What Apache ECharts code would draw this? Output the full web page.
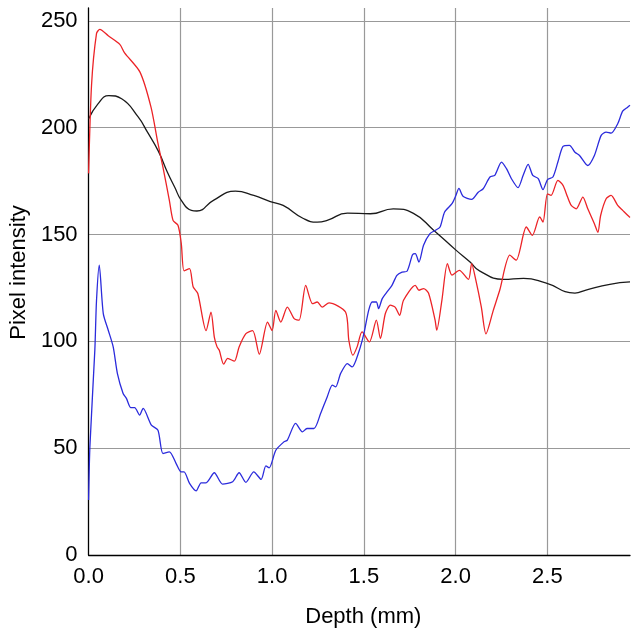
<!DOCTYPE html>
<html>
<head>
<meta charset="utf-8">
<script src="https://cdn.jsdelivr.net/npm/echarts@6/dist/echarts.min.js"></script>
<style>
  html, body { margin: 0; padding: 0; background: #fff; }
  #dataDiv { width: 631px; height: 634px; }
</style>
</head>
<body>
<div id="dataDiv"></div>
<script>
// depth (mm) and pixel intensity for each trace
var depthBlack = [0, 0.05, 0.11, 0.18, 0.27, 0.32, 0.38, 0.43, 0.47, 0.505, 0.56, 0.59, 0.68, 0.80, 0.90, 0.99, 1.06, 1.17, 1.245, 1.30, 1.41, 1.535, 1.66, 1.77, 1.88, 2.0, 2.08, 2.13, 2.26, 2.37, 2.49, 2.65, 2.71, 2.84, 2.95];
var intensityBlack = [204, 211, 215, 213.5, 205, 198, 189, 179, 172, 166, 161.3, 161, 166, 170.3, 168.3, 165.4, 163.6, 157.5, 155.8, 156.6, 160, 159.7, 162, 159.9, 152, 142.8, 137, 133, 129, 129.5, 127.3, 122.6, 124, 126.7, 127.8];

var depthRed = [0, 0.016, 0.043, 0.061, 0.107, 0.17, 0.196, 0.28, 0.34, 0.378, 0.405, 0.44, 0.46, 0.487, 0.505, 0.52, 0.55, 0.57, 0.595, 0.64, 0.667, 0.685, 0.70, 0.712, 0.736, 0.758, 0.794, 0.82, 0.857, 0.894, 0.93, 0.975, 1.0, 1.02, 1.047, 1.083, 1.12, 1.147, 1.183, 1.22, 1.246, 1.273, 1.31, 1.40, 1.418, 1.44, 1.463, 1.49, 1.53, 1.568, 1.59, 1.617, 1.644, 1.67, 1.695, 1.716, 1.78, 1.80, 1.825, 1.852, 1.888, 1.897, 1.925, 1.955, 1.98, 2.02, 2.07, 2.087, 2.11, 2.14, 2.165, 2.205, 2.24, 2.295, 2.33, 2.385, 2.418, 2.458, 2.476, 2.50, 2.52, 2.557, 2.585, 2.61, 2.63, 2.657, 2.693, 2.72, 2.756, 2.775, 2.79, 2.82, 2.847, 2.883, 2.91, 2.937, 2.95];
var intensityRed = [178.6, 220, 244, 246, 243, 239, 235, 226, 209.6, 192.6, 181.5, 166, 156.6, 154.3, 145.8, 133, 134, 125.4, 122.4, 105, 113.7, 102, 97.4, 95.8, 89.3, 92, 90.7, 97.4, 103.6, 105, 94, 109, 105, 114.5, 109, 116, 110.6, 109.9, 126.2, 117.6, 118.4, 116, 118, 113.7, 100.5, 93.5, 97.4, 104.4, 99.7, 109.9, 101.3, 113, 116.9, 116, 112.2, 119.2, 126.2, 123.9, 124.7, 122.6, 109.9, 105.2, 119.2, 136.4, 131, 133.2, 129, 136.4, 128.6, 116, 103.5, 114.5, 123.9, 140.3, 138, 153.5, 149.6, 158.2, 155.8, 169, 168.3, 175.3, 173, 167.5, 163.6, 162, 167.5, 162, 155, 151, 158.9, 166.7, 168.3, 163.6, 161.3, 159, 158];

var depthBlue = [0, 0.007, 0.034, 0.043, 0.058, 0.08, 0.107, 0.134, 0.157, 0.188, 0.206, 0.23, 0.251, 0.278, 0.297, 0.342, 0.378, 0.405, 0.44, 0.477, 0.504, 0.52, 0.55, 0.586, 0.613, 0.64, 0.685, 0.73, 0.785, 0.82, 0.857, 0.90, 0.94, 0.966, 0.984, 1.02, 1.065, 1.083, 1.128, 1.165, 1.19, 1.228, 1.264, 1.30, 1.328, 1.346, 1.373, 1.41, 1.436, 1.472, 1.50, 1.526, 1.545, 1.568, 1.58, 1.60, 1.626, 1.653, 1.68, 1.708, 1.735, 1.765, 1.78, 1.80, 1.825, 1.86, 1.89, 1.915, 1.94, 1.98, 2.0, 2.018, 2.04, 2.087, 2.123, 2.15, 2.187, 2.213, 2.25, 2.277, 2.304, 2.34, 2.368, 2.395, 2.42, 2.45, 2.476, 2.50, 2.53, 2.557, 2.585, 2.62, 2.65, 2.675, 2.72, 2.756, 2.793, 2.82, 2.847, 2.883, 2.91, 2.937, 2.95];
var intensityBlue = [25.7, 50.6, 96, 119, 135.6, 113, 105.2, 97.4, 84.9, 75.6, 73.3, 69, 69, 65.5, 68.6, 60.8, 58.4, 47.5, 48.3, 42.8, 38.9, 38.9, 33.5, 30, 33.8, 33.8, 38.5, 33.2, 34.3, 38.5, 34, 38.9, 35.4, 41.7, 40.8, 49, 53, 53.8, 61.6, 57.6, 59.2, 59.2, 66.2, 74, 79.5, 78.7, 84.9, 89.6, 88, 95, 103.6, 114.5, 118.4, 118.4, 115.3, 120, 123.1, 126.2, 130.9, 132.4, 132.8, 140.5, 141, 137.1, 145, 150.4, 152, 153.5, 160.5, 164.4, 168, 171.6, 167.9, 166.4, 169.8, 171.4, 176.9, 177.7, 183.9, 180.8, 176.1, 171.9, 177.7, 182.8, 177.7, 176.1, 171, 175.6, 176.9, 183.9, 191.2, 191.7, 188.5, 187, 182.3, 187, 196.4, 197.9, 197.4, 201.8, 207.7, 209.6, 210.5];

function pairs(xs, ys) {
    var out = [];
    for (var i = 0; i < xs.length; i++) out.push([xs[i], ys[i]]);
    return out;
}

var myChart = echarts.init(document.getElementById("dataDiv"));
var font = 'Liberation Sans, Arial, Helvetica, sans-serif';

option = {
    animation: false,
    grid: { left: 87, right: 1, top: 8, bottom: 79, containLabel: false },
    xAxis: {
        type: 'value',
        min: 0,
        max: 2.95,
        interval: 0.5,
        name: 'Depth (mm)',
        nameLocation: 'middle',
        nameGap: 51,
        nameTextStyle: { color: '#000', fontSize: 22, fontFamily: font, padding: [0, 0, 0, 8] },
        axisLine: { show: true, lineStyle: { color: '#000', width: 1.3 } },
        axisTick: { show: false },
        axisLabel: {
            margin: 11, color: '#000', fontSize: 22, fontFamily: font,
            showMaxLabel: false,
            formatter: function (v) { return v.toFixed(1); }
        },
        splitLine: { show: true, showMinLine: false, showMaxLine: false, lineStyle: { color: '#999', width: 1.2 } }
    },
    yAxis: {
        type: 'value',
        min: 0,
        max: 256,
        interval: 50,
        name: 'Pixel intensity',
        nameLocation: 'middle',
        nameGap: 53,
        // shifts the rotated title up a little, as in the figure
        nameTextStyle: { color: '#000', fontSize: 22, fontFamily: font, padding: [0, 0, 0, 18] },
        axisLine: { show: true, lineStyle: { color: '#000', width: 1.3 } },
        axisTick: { show: false },
        axisLabel: {
            margin: 11, color: '#000', fontSize: 22, fontFamily: font,
            showMaxLabel: false
        },
        splitLine: { show: true, showMinLine: false, showMaxLine: false, lineStyle: { color: '#999', width: 1.2 } }
    },
    series: [
        {
            type: 'line', name: 'black', data: pairs(depthBlack, intensityBlack),
            smooth: 0.5, showSymbol: false, lineStyle: { color: '#1a1a1a', width: 1.3 }
        },
        {
            type: 'line', name: 'red', data: pairs(depthRed, intensityRed),
            smooth: 0.25, showSymbol: false, lineStyle: { color: '#ec2327', width: 1.3 }
        },
        {
            type: 'line', name: 'blue', data: pairs(depthBlue, intensityBlue),
            smooth: 0.25, showSymbol: false, lineStyle: { color: '#2b2bdc', width: 1.3 }
        }
    ]
};
myChart.setOption(option);
</script>
</body>
</html>
